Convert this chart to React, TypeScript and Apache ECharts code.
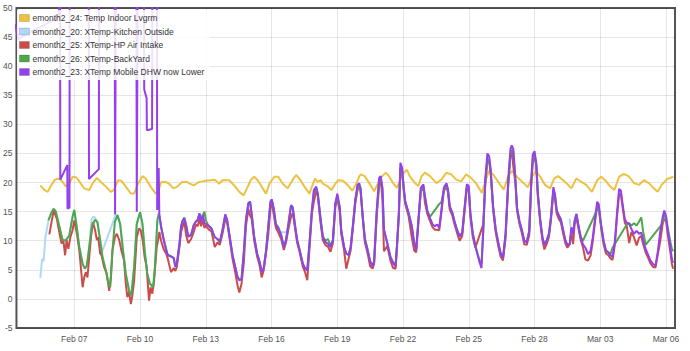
import React, { useEffect, useRef } from 'react';
import * as echarts from 'echarts';

// ---------- labels ----------
const seriesNames = [
  'emonth2_24: Temp Indoor Lvgrm',
  'emonth2_20: XTemp-Kitchen Outside',
  'emonth2_25: XTemp-HP Air Intake',
  'emonth2_26: XTemp-BackYard',
  'emonth2_23: XTemp Mobile DHW now Lower',
];
const seriesColors = ['#edc240', '#afd8f8', '#cb4b4b', '#4da74d', '#9440ed'];

// x is "day of February" (Mar 01 = 29)
const xTickDays = [7, 10, 13, 16, 19, 22, 25, 28, 31, 34];
const xTickLabels = ['Feb 07', 'Feb 10', 'Feb 13', 'Feb 16', 'Feb 19', 'Feb 22', 'Feb 25', 'Feb 28', 'Mar 03', 'Mar 06'];
const xMin = 4.36;
const xMax = 34.41;
const yMin = -5;
const yMax = 50;
const yStep = 5;

// ---------- indoor (yellow) ----------
const indoor: [number, number][] = [
  [5.45, 19.5], [5.64, 18.7], [5.79, 18.4], [5.94, 19.5], [6.12, 20.5], [6.32, 20.7], [6.47, 20.1], [6.62, 19.3], [6.77, 19.8], [6.92, 21.0],
  [7.08, 20.9], [7.25, 20.1], [7.45, 19.0], [7.68, 18.7], [7.83, 19.8], [8.03, 20.8], [8.21, 20.1], [8.44, 19.3], [8.67, 18.4], [8.8, 18.7],
  [9.0, 20.4], [9.15, 20.3], [9.35, 19.3], [9.58, 18.1], [9.73, 18.1], [9.91, 19.8], [10.11, 21.1], [10.26, 20.7], [10.48, 19.3], [10.71, 18.1],
  [10.82, 18.4], [10.97, 20.1], [11.17, 20.1], [11.32, 19.8], [11.52, 19.0], [11.7, 19.3], [11.92, 20.1], [12.15, 20.1], [12.27, 19.8], [12.45, 19.5],
  [12.68, 20.1], [12.85, 20.2], [13.0, 20.3], [13.23, 20.4], [13.41, 20.5], [13.61, 19.8], [13.76, 20.4], [14.07, 20.4], [14.3, 19.5], [14.53, 18.4],
  [14.73, 17.8], [14.88, 19.0], [15.06, 20.5], [15.21, 21.0], [15.37, 20.4], [15.6, 19.0], [15.75, 18.1], [15.9, 19.8], [16.13, 21.0], [16.31, 21.0],
  [16.51, 19.8], [16.74, 19.0], [16.97, 20.5], [17.12, 21.3], [17.27, 20.7], [17.5, 19.3], [17.73, 18.1], [17.84, 19.3], [17.99, 20.7], [18.1, 20.1],
  [18.24, 20.4], [18.34, 19.8], [18.54, 19.4], [18.73, 18.7], [18.91, 19.8], [19.04, 20.4], [19.26, 20.3], [19.49, 19.5], [19.68, 18.6], [19.87, 19.8],
  [20.02, 21.2], [20.08, 21.4], [20.25, 21.1], [20.46, 19.9], [20.68, 18.5], [20.8, 19.4], [20.98, 20.8], [21.21, 21.7], [21.36, 21.1], [21.58, 19.7],
  [21.73, 19.1], [21.88, 20.5], [22.03, 21.7], [22.18, 22.2], [22.3, 21.1], [22.55, 19.9], [22.7, 19.4], [22.85, 21.1], [23.0, 21.7], [23.23, 21.1],
  [23.53, 19.9], [23.75, 20.5], [23.98, 21.7], [24.2, 21.4], [24.43, 20.5], [24.65, 20.2], [24.88, 21.4], [25.1, 20.8], [25.33, 19.9], [25.6, 18.2],
  [25.78, 20.5], [25.93, 22.0], [26.11, 21.4], [26.38, 19.9], [26.6, 18.8], [26.8, 21.1], [26.98, 22.0], [27.2, 21.0], [27.5, 19.9], [27.7, 19.2],
  [27.88, 21.0], [28.06, 21.9], [28.26, 21.0], [28.48, 19.6], [28.71, 19.0], [28.9, 20.7], [29.08, 21.1], [29.31, 20.4], [29.53, 19.6], [29.68, 19.0],
  [29.91, 20.7], [30.14, 20.1], [30.36, 19.6], [30.62, 18.4], [30.86, 20.4], [31.04, 21.0], [31.22, 20.4], [31.46, 19.3], [31.64, 18.7], [31.86, 21.0],
  [32.08, 21.5], [32.32, 21.0], [32.54, 19.9], [32.77, 19.6], [32.99, 20.4], [33.22, 19.9], [33.44, 19.0], [33.62, 18.4], [33.8, 19.6], [34.05, 20.6],
  [34.27, 20.9], [34.33, 21.0],
];

// ---------- kitchen outside (light blue) ----------
const kitchen: [number, number | string][] = [
  [5.45, 3.6], [5.53, 6.9], [5.6, 6.5], [5.68, 10.6], [5.75, 12.0], [5.82, 13.5], [5.95, 14.8], [6.06, 15.5], [6.2, 14.0], [6.32, 12.4],
  [6.47, 10.1], [6.62, 10.1], [6.77, 10.9], [6.92, 14.1], [7.0, 15.3], [7.12, 12.1], [7.23, 8.9], [7.38, 6.0], [7.48, 5.2], [7.58, 5.7],
  [7.68, 8.9], [7.78, 13.5], [7.85, 14.1], [7.95, 14.0], [8.05, 13.0], [8.15, 10.5], [8.22, 7.6], [8.88, 14.4], [8.97, 14.4], [9.09, 12.9],
  [9.24, 7.8], [9.35, 4.3], [9.5, 1.4], [9.6, 0.6], [9.73, 5.5], [9.85, 12.9], [10.0, 14.9], [10.11, 12.9], [10.21, 8.3], [10.33, 4.3],
  [10.45, 2.6], [10.6, 2.0], [10.68, 5.5], [10.79, 13.5], [10.86, 14.7],
  [12, '-'], [16.38, 11.5], [16.72, 11.4], [20, '-'], [29.6, 13.8], [29.66, 12.2],
];

// ---------- early part (before Feb 11) ----------
const airIntakeEarly: [number, number][] = [
  [5.86, 11.1], [5.93, 12.6], [6.06, 15.2], [6.2, 13.8], [6.36, 10.6], [6.42, 9.5], [6.5, 10.1], [6.58, 7.5], [6.65, 10.1], [6.73, 8.6],
  [6.82, 10.6], [6.92, 11.8], [7.0, 13.5], [7.12, 11.2], [7.23, 8.3], [7.38, 2.0], [7.45, 3.7], [7.53, 4.6], [7.6, 3.7], [7.68, 7.2],
  [7.76, 10.6], [7.85, 13.2], [7.95, 11.8], [8.03, 10.1], [8.09, 10.6], [8.18, 7.8], [8.24, 7.5], [8.36, 5.5], [8.48, 4.3], [8.59, 1.4],
  [8.67, 3.7], [8.74, 8.3], [8.85, 10.6], [8.94, 11.2], [9.05, 10.1], [9.15, 8.3], [9.27, 6.6], [9.35, 2.6], [9.42, 0.3], [9.5, 1.2],
  [9.58, -0.9], [9.65, 0.6], [9.73, 3.2], [9.85, 10.6], [9.95, 12.1], [10.03, 11.8], [10.12, 10.1], [10.21, 7.2], [10.3, 5.5], [10.41, -0.3],
  [10.48, 2.0], [10.56, 0.9], [10.64, 3.2], [10.76, 8.9], [10.82, 10.1],
];
const backyardEarly: [number, number][] = [
  [5.82, 13.5], [5.95, 14.8], [6.06, 15.5], [6.16, 15.0], [6.32, 12.4], [6.47, 10.1], [6.62, 10.1], [6.77, 10.9], [6.92, 14.1], [7.0, 15.3],
  [7.12, 12.1], [7.23, 8.9], [7.38, 6.0], [7.48, 5.2], [7.57, 5.7], [7.68, 8.9], [7.8, 12.4], [7.94, 13.6], [8.06, 13.2], [8.18, 10.1],
  [8.29, 7.2], [8.44, 4.9], [8.56, 2.6], [8.64, 2.0], [8.74, 8.3], [8.85, 13.2], [8.97, 14.4], [9.09, 12.9], [9.24, 7.8], [9.35, 4.3],
  [9.5, 1.4], [9.6, 0.6], [9.73, 5.5], [9.85, 12.9], [10.0, 14.9], [10.11, 12.9], [10.21, 8.3], [10.33, 4.3], [10.45, 2.6], [10.6, 2.0],
  [10.68, 5.5], [10.79, 13.5], [10.86, 14.7],
];
// DHW sensor readings far above the chart (60 = off the top)
const mobileEarly: [number, number][] = [
  [4.3, 47.2], [4.45, 44.6], [4.8, 45.5], [5.6, 47.0], [6.3, 48.5], [6.35, 60], [6.36, 20.5], [6.68, 23.0], [6.69, 15.5], [6.78, 15.7],
  [6.79, 60], [7.66, 60], [7.67, 20.6], [8.12, 22.3], [8.13, 60], [8.84, 60], [8.86, 14.5], [8.9, 60], [9.83, 60], [9.85, 15.0],
  [9.9, 60], [10.18, 60], [10.19, 36.0], [10.3, 34.5], [10.31, 29.0], [10.55, 29.2], [10.56, 60], [10.77, 60], [10.78, 15.3], [10.85, 22.5],
];

// ---------- late part (Feb 11 onwards), shared days ----------
const lateDays = [
  10.88, 10.96, 11.08, 11.19, 11.26, 11.41, 11.54, 11.61, 11.68, 11.8,
  11.87, 11.95, 12.02, 12.1, 12.2, 12.33, 12.45, 12.55, 12.63, 12.71,
  12.78, 12.86, 12.94, 13.0, 13.12, 13.26, 13.41, 13.53, 13.64, 13.76,
  13.89, 13.97, 14.07, 14.22, 14.34, 14.45, 14.53, 14.63, 14.73, 14.83,
  14.94, 15.02, 15.09, 15.21, 15.34, 15.44, 15.55, 15.64, 15.75, 15.85,
  15.95, 16.01, 16.1, 16.2, 16.31, 16.44, 16.56, 16.66, 16.77, 16.89,
  16.97, 17.08, 17.17, 17.27, 17.43, 17.53, 17.63, 17.73, 17.84, 17.93,
  18.04, 18.11, 18.24, 18.34, 18.45, 18.57, 18.69, 18.8, 18.91, 19.0,
  19.11, 19.18, 19.31, 19.41, 19.52, 19.61, 19.72, 19.82, 19.92, 20.0,
  20.06, 20.16, 20.26, 20.38, 20.5, 20.61, 20.68, 20.8, 20.91, 20.98,
  21.06, 21.13, 21.28, 21.43, 21.55, 21.66, 21.73, 21.81, 21.88, 21.96,
  22.03, 22.1, 22.25, 22.4, 22.51, 22.6, 22.7, 22.81, 22.93, 23.0,
  23.11, 23.23, 23.35, 23.45, 23.56, 23.65, 23.75, 23.86, 23.98, 24.05,
  24.13, 24.25, 24.35, 24.46, 24.58, 24.7, 24.8, 24.91, 25.0, 25.07,
  25.18, 25.3, 25.4, 25.51, 25.58, 25.66, 25.75, 25.85, 25.93, 26.0,
  26.11, 26.23, 26.35, 26.45, 26.56, 26.68, 26.8, 26.9, 26.96, 27.03,
  27.13, 27.2, 27.31, 27.43, 27.53, 27.65, 27.76, 27.85, 27.92, 28.0,
  28.08, 28.15, 28.26, 28.36, 28.45, 28.56, 28.66, 28.75, 28.86, 28.93,
  29.01, 29.1, 29.2, 29.31, 29.41, 29.5, 29.61, 29.68, 29.76, 29.83,
  29.91, 30.02, 30.11, 30.21, 30.32, 30.44, 30.56, 30.66, 30.77, 30.86,
  30.93, 31.03, 31.15, 31.26, 31.37, 31.46, 31.56, 31.67, 31.76, 31.86,
  31.94, 32.02, 32.12, 32.21, 32.32, 32.42, 32.54, 32.66, 32.77, 32.87,
  32.96, 33.07, 33.17, 33.29, 33.41, 33.52, 33.62, 33.74, 33.85, 33.92,
  34.0, 34.08, 34.2, 34.27, 34.32,
];
const mobileLate: (number | null)[] = [
  14.4, 12.4, 10.1, 8.4, 7.5, 7.3, 7.0, 5.5, 6.1, 9.5,
  12.4, 13.5, 13.8, 12.7, 10.7, 11.0, 12.7, 13.3, 13.5, 14.7,
  13.3, 14.4, 13.0, 12.9, 12.6, 12.1, 10.6, 10.3, 9.8, 11.8,
  14.5, 13.6, 11.2, 7.5, 5.5, 3.7, 3.2, 3.4, 7.8, 13.5,
  16.4, 16.7, 14.7, 10.6, 7.8, 6.6, 4.6, 5.2, 8.3, 12.4,
  16.7, 17.1, 15.5, 12.6, 12.1, 10.9, 8.9, 10.1, 12.9, 16.1,
  15.5, 12.4, 10.1, 8.6, 6.0, 5.2, 4.9, 9.5, 15.2, 18.7,
  19.3, 18.1, 13.5, 10.6, 9.8, 9.5, 8.9, 10.1, 16.4, 18.1,
  15.8, 11.8, 8.9, 7.8, 7.5, 8.9, 12.9, 17.0, 19.6, 19.9,
  19.0, 14.2, 10.2, 8.4, 6.4, 5.6, 6.4, 15.3, 20.8, 21.1,
  19.1, 11.9, 9.6, 7.0, 6.1, 5.6, 9.6, 14.8, 23.4, 22.5,
  19.1, 16.8, 14.8, 12.5, 9.6, 8.4, 13.6, 19.1, 19.7, 17.6,
  15.1, 13.9, 12.8, 12.5, 12.8, 12.2, 15.3, 19.1, 19.9, 18.8,
  15.9, 14.8, 13.3, 11.9, 10.7, 11.3, 15.3, 19.7, 19.4, 14.8,
  11.3, 9.0, 7.6, 6.1, 5.3, 11.9, 20.5, 25.0, 24.5, 22.2,
  15.9, 11.9, 9.6, 7.9, 7.0, 11.3, 20.5, 25.7, 26.4, 25.8,
  20.4, 15.7, 13.4, 11.7, 10.0, 9.7, 11.7, 20.4, 24.8, 25.4,
  23.4, 18.2, 13.6, 10.6, 9.2, 10.1, 11.2, 14.1, 19.2, 18.0,
  15.2, 14.3, 13.7, 11.7, 10.0, 9.2, 9.4, 12.3, 11.2, 13.4,
  14.6, 12.3, 10.6, 9.4, 8.8, 7.7, 8.3, 10.6, 14.1, 16.7,
  16.3, 12.9, 10.0, 8.3, 8.0, 7.5, 7.2, 10.0, 14.6, 18.9,
  18.6, 16.3, 13.7, 13.1, 12.9, 12.0, 11.2, 11.7, 11.2, 11.4,
  10.0, 8.6, 7.7, 6.6, 6.0, 5.7, 8.0, 11.7, 14.1, 15.2,
  14.3, 11.7, 8.8, 6.8, 6.2,
];
const airIntakeLate: (number | null)[] = [
  11.5, 10.0, 8.5, 7.8, 7.0, 4.6, 5.3, 4.8, 5.5, 9.0,
  11.5, 12.5, 13.3, 11.0, 9.6, 10.3, 11.5, 12.8, 12.5, 13.8,
  12.5, 13.5, 12.2, 12.6, 12.0, 11.6, 8.9, 9.7, 9.3, 11.2,
  13.7, 13.2, 10.8, 6.9, 4.6, 2.3, 1.1, 2.6, 6.0, 12.4,
  15.5, 14.3, 13.8, 10.0, 7.3, 6.0, 3.7, 4.9, 7.9, 11.0,
  15.6, 16.6, 14.5, 12.2, 11.4, 10.3, 8.4, 9.7, 12.0, 14.1,
  14.8, 11.9, 9.6, 8.2, 5.5, 4.6, 3.2, 8.5, 14.6, 16.7,
  18.6, 17.7, 13.0, 10.1, 9.3, 9.0, 8.1, 9.6, 15.7, 17.5,
  15.0, 11.2, 8.4, 5.2, 7.0, 8.3, 12.4, 16.3, 18.7, 19.5,
  18.6, 13.9, 9.7, 7.9, 5.6, 5.2, 6.0, 14.2, 19.5, 20.6,
  17.2, 8.2, 9.1, 6.5, 5.3, 5.2, 9.1, 14.2, 22.5, 22.0,
  18.6, 16.3, 14.3, 10.6, 8.3, 8.0, 13.0, 18.4, 19.2, 16.5,
  14.6, 13.4, 12.3, 11.9, 11.9, 11.8, 14.8, 18.5, 19.4, 18.3,
  15.4, 14.3, 12.8, 11.4, 10.0, 10.8, 14.7, 19.0, 18.6, 14.2,
  10.7, 8.8, null, null, null, 12.8, 19.5, 24.0, 23.5, 21.5,
  15.3, 11.4, 9.0, 7.3, 6.6, 10.5, 19.6, 24.6, 25.6, 22.8,
  19.8, 15.2, 12.9, 11.2, 9.4, 9.3, 11.0, 19.6, 23.4, 24.5,
  22.9, 17.6, 13.1, 10.1, 8.5, 9.5, 10.7, 13.5, 18.4, 17.3,
  14.7, 13.8, 13.2, 11.2, 9.5, 8.8, 9.4, 11.5, 9.4, 12.8,
  14.0, 11.8, 10.1, 8.9, 6.8, 6.6, 7.5, 10.0, 13.5, 16.0,
  15.8, 12.4, 9.4, 7.8, 7.5, 7.0, 6.7, 9.4, 14.0, 18.0,
  18.0, 15.7, 13.1, 12.5, 9.6, 11.5, 10.6, 9.2, 10.5, 10.8,
  9.4, 8.0, 7.2, 6.1, 5.5, 5.4, 7.5, 10.0, 13.0, 13.7,
  13.5, 11.0, 8.0, 6.0, 5.2,
];
const backyardLate: (number | null)[] = [
  14.4, 12.4, 10.3, 8.6, 7.6, 7.3, 7.0, 5.5, 6.1, 9.5,
  12.4, 13.5, 14.0, 12.7, 10.7, 11.0, 12.7, 13.3, 13.6, 14.7,
  13.4, 14.4, 15.0, 13.5, 12.6, 12.1, 10.6, 10.3, 9.8, 11.8,
  14.5, 13.6, 11.2, 7.5, 5.6, 3.8, 3.3, 3.4, 7.8, 13.5,
  16.4, 16.7, 14.7, 10.6, 7.8, 6.6, 4.8, 5.2, 8.3, 12.4,
  16.7, 17.1, 15.5, 12.9, 12.3, 11.0, 9.0, 10.1, 12.9, 16.1,
  15.8, 12.4, 10.1, 8.6, 6.0, 5.3, 5.0, 9.5, 15.2, 18.3,
  19.0, 18.1, 13.8, 10.8, 10.0, 10.3, 9.2, 10.1, 16.4, 17.6,
  15.8, 11.8, 8.9, 7.8, 7.6, 8.9, 12.9, 17.0, 18.8, 19.4,
  19.0, 14.2, 10.4, 8.6, 6.5, 5.8, 6.4, 15.0, 20.2, 20.8,
  18.9, 11.9, 9.6, 7.2, 6.3, 5.8, 9.6, 14.8, 22.6, 22.2,
  19.1, 16.8, 14.8, 12.5, 9.6, 8.6, 13.3, 18.5, 19.3, 17.6,
  15.1, 14.1, null, null, null, 16.3, 16.6, 18.6, 19.5, 18.8,
  15.9, 14.8, 13.3, 11.9, 10.9, 11.3, 15.3, 19.2, 19.0, 14.8,
  11.3, 9.2, 7.8, 6.4, 6.0, 11.5, 19.8, 23.8, 24.0, 22.0,
  15.9, 11.9, 9.6, 7.9, 7.0, 11.0, 19.8, 24.8, 25.6, 25.3,
  20.4, 15.7, 13.4, 11.7, 10.0, 9.9, 11.7, 20.0, 24.0, 24.8,
  23.0, 18.2, 13.6, 10.6, 9.4, 10.1, 11.2, 14.1, 18.6, 18.0,
  15.2, 14.5, 13.7, 11.7, 10.0, 9.4, 9.4, 12.0, 11.2, 13.4,
  14.6, 12.3, 10.6, 10.0, null, null, null, null, 14.6, 15.5,
  15.6, 12.9, 10.0, 8.3, 8.0, 7.6, 8.8, null, null, null,
  null, null, null, 12.8, 13.0, 12.6, 13.0, 12.6, 13.3, 14.0,
  11.5, 9.3, null, null, null, null, null, null, 13.0, 14.5,
  14.0, 12.2, 9.8, 8.6, 8.2,
];

const withLate = (early: [number, number][], late: (number | null)[]) => {
  const out: [number, number][] = early.slice();
  lateDays.forEach((d, i) => {
    const v = late[i];
    if (v !== null && v !== undefined) out.push([d, v]);
  });
  return out;
};

export default function App() {
  const ref = useRef<HTMLDivElement>(null);
  useEffect(() => {
    if (!ref.current) return;
    const chart = echarts.init(ref.current, undefined, { renderer: 'svg' });
    const font = "'Liberation Sans', Arial, Helvetica, sans-serif";
    const seriesData = [
      indoor,
      kitchen,
      withLate(airIntakeEarly, airIntakeLate),
      withLate(backyardEarly, backyardLate),
      withLate(mobileEarly, mobileLate),
    ];
    chart.setOption({
      animation: false,
      textStyle: { fontFamily: font },
      grid: {
        left: 15, right: 15, top: 8, bottom: 23,
        show: true, borderColor: '#545454', borderWidth: 2,
        backgroundColor: 'transparent',
      },
      legend: {
        orient: 'vertical',
        left: 17, top: 10,
        padding: [3, 5, 3, 2],
        backgroundColor: 'rgba(255,255,255,0.85)',
        icon: 'rect',
        itemWidth: 10, itemHeight: 7,
        itemGap: 3.5,
        itemStyle: { borderColor: 'rgba(0,0,0,0.2)', borderWidth: 0.8 },
        textStyle: { fontSize: 8.5, color: '#333', fontFamily: font, lineHeight: 10, padding: [0, 0, 0, -2] },
        selectedMode: false,
        data: seriesNames,
      },
      xAxis: {
        type: 'value', min: xMin, max: xMax,
        axisLine: { show: false },
        axisTick: { show: false, customValues: xTickDays },
        axisLabel: {
          customValues: xTickDays,
          fontSize: 8.5, color: '#545454', margin: 6, fontFamily: font,
          formatter: (v: number) => {
            const i = xTickDays.findIndex((t) => Math.abs(t - v) < 1e-6);
            return i >= 0 ? xTickLabels[i] : '';
          },
        },
        splitLine: { show: true, lineStyle: { color: 'rgba(0,0,0,0.1)', width: 1 } },
      },
      yAxis: {
        type: 'value', min: yMin, max: yMax, interval: yStep,
        axisLine: { show: false },
        axisTick: { show: false },
        axisLabel: { fontSize: 8.5, color: '#545454', margin: 4, fontFamily: font },
        splitLine: { show: true, lineStyle: { color: 'rgba(0,0,0,0.1)', width: 1 } },
      },
      series: seriesNames.map((name, i) => ({
        type: 'line',
        name,
        data: seriesData[i],
        showSymbol: false,
        symbol: 'none',
        clip: true,
        connectNulls: false,
        lineStyle: { width: 2, color: seriesColors[i] },
        itemStyle: { color: seriesColors[i] },
        emphasis: { disabled: true },
      })),
    });
    return () => chart.dispose();
  }, []);
  return (
    <div
      ref={ref}
      style={{ position: 'fixed', left: 0, top: 0, width: 690, height: 351, background: '#fff' }}
    />
  );
}
